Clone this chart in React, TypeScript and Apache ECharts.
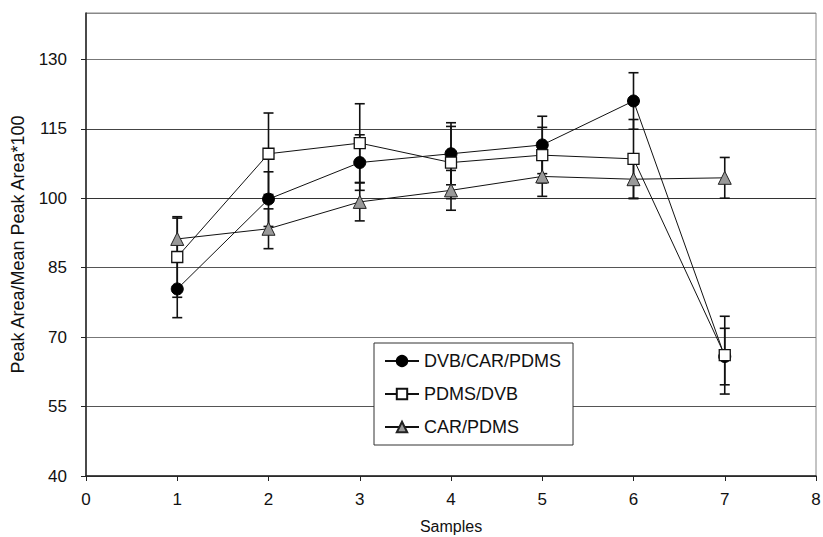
import React, { useEffect, useRef } from "react";
import * as echarts from "echarts";

const samples = [1, 2, 3, 4, 5, 6, 7];
const dvbCarPdms = [80.4, 99.8, 107.7, 109.6, 111.5, 121.0, 65.8];
const dvbCarPdmsErr = [6.2, 5.9, 6.0, 6.7, 6.2, 6.1, 6.1];
const pdmsDvb = [87.3, 109.6, 111.9, 107.7, 109.3, 108.5, 66.1];
const pdmsDvbErr = [8.7, 8.8, 8.5, 7.8, 6.0, 8.5, 8.4];
const carPdms = [91.2, 93.4, 99.2, 101.7, 104.7, 104.1, 104.4];
const carPdmsErr = [4.5, 4.3, 4.1, 4.3, 4.3, 4.2, 4.4];
const seriesNames = ["DVB/CAR/PDMS", "PDMS/DVB", "CAR/PDMS"];

const FONT = "'Liberation Sans', Arial, sans-serif";

function errData(vals: number[], errs: number[]) {
  return samples.map((x, i) => [x, vals[i] - errs[i], vals[i] + errs[i]]);
}

function errSeries(vals: number[], errs: number[]) {
  return {
    type: "custom",
    silent: true,
    z: 1,
    data: errData(vals, errs),
    renderItem: (params: any, api: any) => {
      const x = api.value(0);
      const lo = api.coord([x, api.value(1)]);
      const hi = api.coord([x, api.value(2)]);
      const w = 5;
      const style = { stroke: "#111", lineWidth: 1.6 };
      return {
        type: "group",
        children: [
          { type: "line", shape: { x1: lo[0], y1: lo[1], x2: hi[0], y2: hi[1] }, style },
          { type: "line", shape: { x1: lo[0] - w, y1: lo[1], x2: lo[0] + w, y2: lo[1] }, style },
          { type: "line", shape: { x1: hi[0] - w, y1: hi[1], x2: hi[0] + w, y2: hi[1] }, style },
        ],
      };
    },
  };
}

export default function App() {
  const ref = useRef<HTMLDivElement>(null);
  useEffect(() => {
    if (!ref.current) return;
    const chart = echarts.init(ref.current, undefined, { renderer: "svg" });
    const pts = (vals: number[]) => samples.map((x, i) => [x, vals[i]]);
    chart.setOption({
      animation: false,
      backgroundColor: "#fff",
      grid: {
        left: 86,
        right: 7,
        top: 13,
        bottom: 61,
        outerBoundsMode: "none",
        containLabel: false,
        show: true,
        borderColor: "#888",
        borderWidth: 1,
        backgroundColor: "transparent",
      },
      legend: {
        data: seriesNames,
        orient: "vertical",
        left: 374,
        top: 343,
        backgroundColor: "#fff",
        borderColor: "#333",
        borderWidth: 1,
        padding: [9, 12, 9, 10],
        itemWidth: 34,
        itemHeight: 13,
        itemGap: 15,
        textStyle: { fontFamily: FONT, fontSize: 18, color: "#111", padding: [0, 0, 0, 0] },
      },
      xAxis: {
        type: "value",
        min: 0,
        max: 8,
        interval: 1,
        name: "Samples",
        nameLocation: "middle",
        nameGap: 42,
        nameTextStyle: { fontFamily: FONT, fontSize: 16, color: "#111" },
        axisLine: { show: true, onZero: false, lineStyle: { color: "#222", width: 1.5 } },
        axisTick: { show: true, length: 5, lineStyle: { color: "#222" } },
        axisLabel: { fontFamily: FONT, fontSize: 17, color: "#111", margin: 15 },
        splitLine: { show: false },
      },
      yAxis: {
        type: "value",
        min: 40,
        max: 140,
        interval: 15,
        name: "Peak Area/Mean Peak Area*100",
        nameLocation: "middle",
        nameGap: 59,
        nameTextStyle: { fontFamily: FONT, fontSize: 18, color: "#111" },
        axisLine: { show: true, lineStyle: { color: "#222", width: 1.5 } },
        axisTick: { show: true, length: 5, lineStyle: { color: "#222" } },
        axisLabel: { fontFamily: FONT, fontSize: 17, color: "#111", margin: 19, showMaxLabel: false },
        splitLine: {
          show: true,
          lineStyle: {
            color: ["#444", "#555", "#777", "#555", "#333", "#444", "#777", "#888"],
            width: 1,
          },
        },
      },
      series: [
        errSeries(dvbCarPdms, dvbCarPdmsErr),
        errSeries(pdmsDvb, pdmsDvbErr),
        errSeries(carPdms, carPdmsErr),
        {
          name: seriesNames[0],
          type: "line",
          z: 3,
          data: pts(dvbCarPdms),
          symbol: "circle",
          symbolSize: 12,
          lineStyle: { color: "#111", width: 1 },
          itemStyle: { color: "#000", borderColor: "#000", borderWidth: 1 },
        },
        {
          name: seriesNames[1],
          type: "line",
          z: 4,
          data: pts(pdmsDvb),
          symbol: "rect",
          symbolSize: 11,
          lineStyle: { color: "#111", width: 1 },
          itemStyle: { color: "#fff", borderColor: "#111", borderWidth: 1.3 },
        },
        {
          name: seriesNames[2],
          type: "line",
          z: 3,
          data: pts(carPdms),
          symbol: "triangle",
          symbolSize: 13,
          lineStyle: { color: "#111", width: 1 },
          itemStyle: { color: "#999", borderColor: "#222", borderWidth: 1 },
        },
      ],
    });
    return () => chart.dispose();
  }, []);
  return <div ref={ref} style={{ width: 823, height: 537, position: "absolute", left: 0, top: 0 }} />;
}
